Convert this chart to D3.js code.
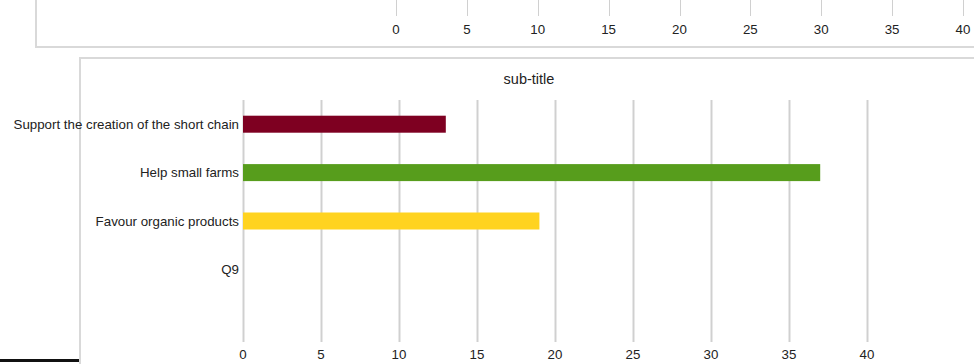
<!DOCTYPE html>
<html>
<head>
<meta charset="utf-8">
<script src="https://cdn.jsdelivr.net/npm/d3@7"></script>
<style>
  body { margin: 0; background: #fff; }
  svg { display: block; font-family: "Liberation Sans", Arial, sans-serif; }
  .tick-label { font-size: 13.3px; fill: #222; }
  .cat-label { font-size: 13.3px; fill: #222; }
</style>
</head>
<body>
<script>
// chart values
const categories = ["Support the creation of the short chain", "Help small farms", "Favour organic products", "Q9"];
const values = [13, 37, 19, null];
const barColors = ["#7e0021", "#579d1c", "#ffd320", "none"];
const tickValues = [0, 5, 10, 15, 20, 25, 30, 35, 40];
const subTitle = "sub-title";

let width = 974,
  height = 364;

let svg = d3.select("body").append("svg")
  .attr("width", width)
  .attr("height", height);

// top panel (tail of the previous chart)
let xTop = d3.scaleLinear().domain([0, 40]).range([396, 963]);

svg.append("path")
  .attr("d", `M36,0 V47 H${width}`)
  .attr("fill", "none")
  .attr("stroke", "#d9d9d9")
  .attr("stroke-width", 2);

svg.append("g").selectAll("line")
  .data(tickValues)
  .enter().append("line")
  .attr("x1", d => Math.round(xTop(d)) + 0.5)
  .attr("x2", d => Math.round(xTop(d)) + 0.5)
  .attr("y1", 0)
  .attr("y2", 16)
  .attr("stroke", "#d0d0d0");

svg.append("g").selectAll("text")
  .data(tickValues)
  .enter().append("text")
  .attr("class", "tick-label")
  .attr("x", d => xTop(d))
  .attr("y", 34)
  .attr("text-anchor", "middle")
  .text(d => d);

// bottom panel
svg.append("path")
  .attr("d", `M80,${height} V58 H${width}`)
  .attr("fill", "none")
  .attr("stroke", "#d9d9d9")
  .attr("stroke-width", 2);

svg.append("line")
  .attr("x1", 0).attr("x2", 79)
  .attr("y1", 360.5).attr("y2", 360.5)
  .attr("stroke", "#111")
  .attr("stroke-width", 3);

svg.append("text")
  .attr("x", 529)
  .attr("y", 84)
  .attr("text-anchor", "middle")
  .style("font-size", "14.5px")
  .attr("fill", "#222")
  .text(subTitle);

let plotTop = 100, plotBottom = 342;
let x = d3.scaleLinear().domain([0, 40]).range([243, 867]);
let step = (plotBottom - plotTop) / 5;
let y = d3.scaleBand().domain(categories).range([plotTop, plotTop + step * categories.length]).padding(0);

// gridlines
svg.append("g").selectAll("line")
  .data(tickValues)
  .enter().append("line")
  .attr("x1", d => Math.round(x(d)) + 0.5)
  .attr("x2", d => Math.round(x(d)) + 0.5)
  .attr("y1", plotTop)
  .attr("y2", plotBottom)
  .attr("stroke", "#d0d0d0")
  .attr("stroke-width", 2);

// bars
let barH = 17;
svg.append("g").selectAll("rect")
  .data(categories.map((c, i) => ({cat: c, value: values[i], color: barColors[i]})).filter(d => d.value != null))
  .enter().append("rect")
  .attr("x", x(0))
  .attr("y", d => y(d.cat) + y.bandwidth() / 2 - barH / 2)
  .attr("width", d => x(d.value) - x(0))
  .attr("height", barH)
  .attr("fill", d => d.color);

// category labels
svg.append("g").selectAll("text")
  .data(categories)
  .enter().append("text")
  .attr("class", "cat-label")
  .attr("x", 239)
  .attr("y", d => y(d) + y.bandwidth() / 2)
  .attr("dy", "0.35em")
  .attr("text-anchor", "end")
  .text(d => d);

// x tick labels
svg.append("g").selectAll("text")
  .data(tickValues)
  .enter().append("text")
  .attr("class", "tick-label")
  .attr("x", d => x(d))
  .attr("y", 359)
  .attr("text-anchor", "middle")
  .text(d => d);
</script>
</body>
</html>
